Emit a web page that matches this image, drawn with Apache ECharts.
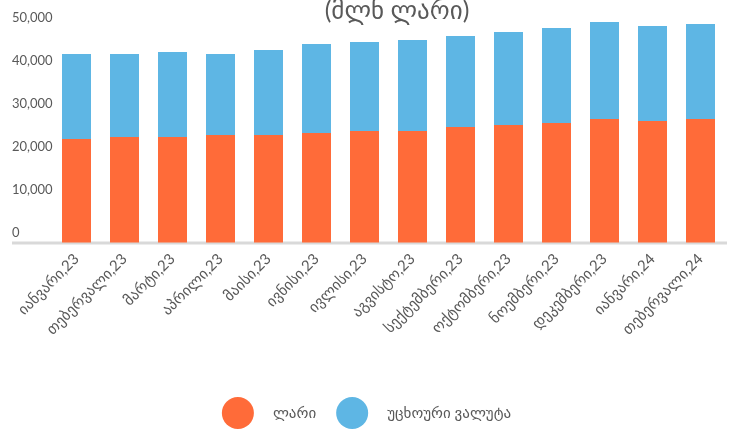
<!DOCTYPE html>
<html>
<head>
<meta charset="utf-8">
<script src="https://cdn.jsdelivr.net/npm/echarts@6/dist/echarts.min.js"></script>
<style>
html,body{margin:0;padding:0;background:#fff;}
#chart{width:733px;height:430px;}
</style>
</head>
<body>
<div id="chart"></div>
<script>
const categories = ['იანვარი,23','თებერვალი,23','მარტი,23','აპრილი,23','მაისი,23','ივნისი,23','ივლისი,23','აგვისტო,23','სექტემბერი,23','ოქტომბერი,23','ნოემბერი,23','დეკემბერი,23','იანვარი,24','თებერვალი,24'];
const lariValues = [24000, 24480, 24480, 24940, 24940, 25400, 25870, 25870, 26800, 27260, 27720, 28650, 28190, 28650];
const foreignValues = [19730, 19250, 19720, 18790, 19720, 20650, 20650, 21110, 21110, 21580, 22040, 22510, 22040, 22040];
const yTicks = [0, 10000, 20000, 30000, 40000, 50000];
const seriesNames = ['ლარი', 'უცხოური ვალუტა'];
const titleText = '(მლნ ლარი)';

const FONT = 'Lato, "DejaVu Sans", sans-serif';
const TXT = '#595959';

const chart = echarts.init(document.getElementById('chart'), null, {renderer: 'canvas'});
chart.setOption({
  animation: false,
  backgroundColor: '#ffffff',
  title: {
    text: titleText,
    left: 392,
    top: -7,
    textAlign: 'center',
    textStyle: {fontFamily: FONT, fontSize: 25, fontWeight: 'normal', color: TXT}
  },
  grid: {left: 52.5, right: 8.5, top: 27, bottom: 187.5, containLabel: false},
  legend: {
    data: seriesNames,
    bottom: 1,
    left: 'center',
    padding: 0,
    icon: 'circle',
    itemWidth: 32,
    itemHeight: 32,
    itemGap: 20,
    textStyle: {fontFamily: FONT, fontSize: 15, color: TXT, padding: [0, 0, 0, 14]}
  },
  graphic: [{
    type: 'rect',
    z: 0,
    shape: {x: 12, y: 241.5, width: 715, height: 3},
    style: {fill: '#d9d9d9'}
  }],
  xAxis: {
    type: 'category',
    data: categories,
    axisLine: {show: false},
    axisTick: {show: false},
    axisLabel: {
      interval: 0, rotate: 45, margin: 14,
      fontFamily: FONT, fontSize: 15, color: TXT
    }
  },
  yAxis: {
    type: 'value',
    min: yTicks[0],
    max: yTicks[yTicks.length - 1],
    interval: yTicks[1] - yTicks[0],
    axisLine: {show: false},
    axisTick: {show: false},
    splitLine: {show: false},
    axisLabel: {
      align: 'left',
      verticalAlign: 'bottom',
      margin: 40.5,
      padding: [0, 0, 3, 0],
      fontFamily: FONT, fontSize: 13, color: TXT,
      formatter: v => v.toLocaleString('en-US')
    }
  },
  series: [
    {name: seriesNames[0], type: 'bar', stack: 'total', data: lariValues, barWidth: 29, clip: false,
     itemStyle: {color: '#FF6B39'}},
    {name: seriesNames[1], type: 'bar', stack: 'total', data: foreignValues, barWidth: 29, clip: false,
     itemStyle: {color: '#5EB6E4'}}
  ]
});
</script>
</body>
</html>
